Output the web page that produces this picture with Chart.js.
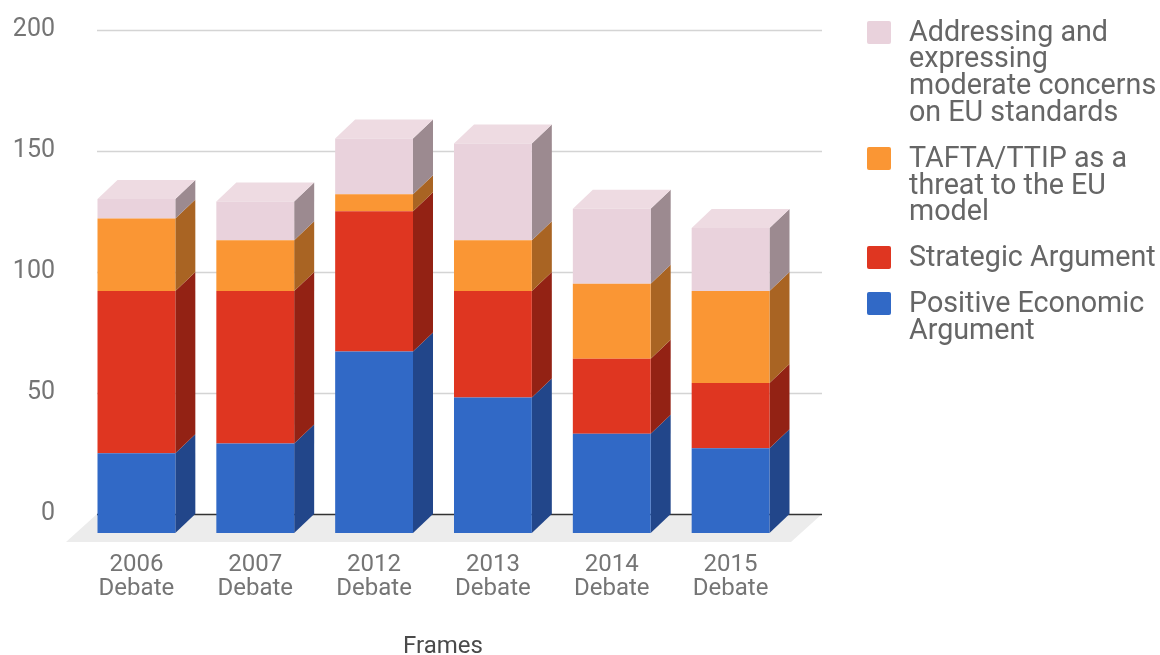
<!DOCTYPE html>
<html>
<head>
<meta charset="utf-8">
<title>Frames</title>
<script src="https://cdn.jsdelivr.net/npm/chart.js@4.4.1/dist/chart.umd.min.js"></script>
<style>
  html, body { margin: 0; padding: 0; background: #fff; }
  #wrap { position: relative; width: 1160px; height: 655px; overflow: hidden; }
  #frames { position: absolute; left: 0; top: 0; }
  .legend-item { position: absolute; left: 867px; font-family: Roboto, sans-serif; font-size: 28.7px; line-height: 26.7px; color: #666; }
  .legend-item .sw { position: absolute; left: 0; top: 3px; width: 24px; height: 23px; border-radius: 2px; }
  .legend-item .txt { position: absolute; left: 42px; top: 0; white-space: nowrap; }
  #xtitle { position: absolute; left: 343px; width: 200px; top: 631px; text-align: center; font-family: Roboto, sans-serif; font-size: 24px; line-height: 28px; color: #4a4a4a; }
</style>
</head>
<body>
<div id="wrap">
  <canvas id="frames" width="1160" height="655"></canvas>
  <div id="legend"></div>
  <div id="xtitle">Frames</div>
</div>
<script>
// Debates on the x axis, stacked frame counts per debate
const categories = [
  ["2006", "Debate"], ["2007", "Debate"], ["2012", "Debate"],
  ["2013", "Debate"], ["2014", "Debate"], ["2015", "Debate"],
];

const positiveEconomic = [33, 37, 75, 56, 41, 35];
const strategicArgument = [67, 63, 58, 44, 31, 27];
const taftaThreat = [30, 21, 7, 21, 31, 38];
const moderateConcerns = [8, 16, 23, 40, 31, 26];

const yTicks = [0, 50, 100, 150, 200];

// legend text, already broken into lines (bottom series first)
const seriesLabels = [
  ["Positive Economic", "Argument"],
  ["Strategic Argument"],
  ["TAFTA/TTIP as a", "threat to the EU", "model"],
  ["Addressing and", "expressing", "moderate concerns", "on EU standards"],
];
const seriesValues = [positiveEconomic, strategicArgument, taftaThreat, moderateConcerns];

const frontColors = ["#3169c6", "#df3621", "#fa9634", "#e9d2dc"];
const sideColors = ["#22468a", "#932214", "#a96423", "#9c8a90"];
const topColors = ["#5b87d3", "#e7614f", "#fbb064", "#eedbe2"];

const AXIS_GREY = "#757575";

// fake 3D: bars are shifted forward, sides/tops go back up-right
const DEPTH_X = 20;
const DEPTH_Y = 19;

function fillPoly(ctx, pts) {
  ctx.beginPath();
  ctx.moveTo(pts[0][0], pts[0][1]);
  for (let i = 1; i < pts.length; i++) ctx.lineTo(pts[i][0], pts[i][1]);
  ctx.closePath();
  ctx.fill();
}

const depthPlugin = {
  id: "depth",
  beforeDatasetsDraw(chart) {
    const { ctx, chartArea: a } = chart;
    const yScale = chart.scales.y;
    const y0 = yScale.getPixelForValue(0);
    const gLeft = a.left + DEPTH_X;
    const gRight = a.right + 32;

    ctx.save();

    // floor under the bars
    ctx.fillStyle = "#ececec";
    fillPoly(ctx, [[gLeft, y0], [gRight, y0], [a.right + 1, y0 + 28], [a.left - 11, y0 + 28]]);

    // gridlines on the back wall
    ctx.strokeStyle = "#d4d4d4";
    ctx.lineWidth = 1.5;
    yTicks.forEach((v) => {
      if (v === 0) return;
      const py = Math.round(yScale.getPixelForValue(v)) + 0.5;
      ctx.beginPath();
      ctx.moveTo(gLeft, py);
      ctx.lineTo(gRight, py);
      ctx.stroke();
    });

    // baseline
    ctx.strokeStyle = "#333";
    ctx.lineWidth = 1.5;
    ctx.beginPath();
    ctx.moveTo(gLeft, Math.round(y0) + 0.5);
    ctx.lineTo(gRight, Math.round(y0) + 0.5);
    ctx.stroke();

    // side and top faces
    const n = chart.data.datasets.length;
    chart.data.datasets.forEach((ds, di) => {
      const meta = chart.getDatasetMeta(di);
      meta.data.forEach((bar, i) => {
        const { x, y, base, width } = bar.getProps(["x", "y", "base", "width"], true);
        const left = x - width / 2;
        const right = x + width / 2;
        const fTop = y + DEPTH_Y;
        const fBot = base + DEPTH_Y;
        if (fBot - fTop < 0.5) return;

        ctx.fillStyle = sideColors[di];
        fillPoly(ctx, [
          [right, fTop], [right + DEPTH_X, fTop - DEPTH_Y],
          [right + DEPTH_X, fBot - DEPTH_Y], [right, fBot],
        ]);

        let topmost = true;
        for (let k = di + 1; k < n; k++) {
          if (Number(chart.data.datasets[k].data[i]) > 0) topmost = false;
        }
        if (topmost) {
          ctx.fillStyle = topColors[di];
          fillPoly(ctx, [
            [left, fTop], [left + DEPTH_X, fTop - DEPTH_Y],
            [right + DEPTH_X, fTop - DEPTH_Y], [right, fTop],
          ]);
        }
      });
    });
    ctx.restore();

    // front faces get drawn by Chart.js, pushed down by the depth offset
    ctx.save();
    ctx.translate(0, DEPTH_Y);
  },
  afterDatasetsDraw(chart) {
    chart.ctx.restore();
  },
};

function buildLegend() {
  const el = document.getElementById("legend");
  let top = 17.7;
  for (let s = seriesLabels.length - 1; s >= 0; s--) {
    const lines = seriesLabels[s];
    const item = document.createElement("div");
    item.className = "legend-item";
    item.style.top = top + "px";
    const sw = document.createElement("div");
    sw.className = "sw";
    sw.style.background = frontColors[s];
    const txt = document.createElement("div");
    txt.className = "txt";
    txt.innerHTML = lines.join("<br>");
    item.appendChild(sw);
    item.appendChild(txt);
    el.appendChild(item);
    top += lines.length * 26.7 + 19.3;
  }
}

function main() {
  Chart.defaults.font.family = "Roboto, sans-serif";
  buildLegend();

  const datasets = seriesValues.map((vals, i) => ({
    label: seriesLabels[i].join(" "),
    data: vals,
    backgroundColor: frontColors[i],
    borderWidth: 0,
    barPercentage: 0.655,
    categoryPercentage: 1,
    clip: false,
  }));

  new Chart(document.getElementById("frames"), {
    type: "bar",
    plugins: [depthPlugin],
    data: { labels: categories, datasets },
    options: {
      responsive: false,
      animation: false,
      events: [],
      layout: { padding: { left: 0, right: 370, top: 30, bottom: 0 } },
      plugins: { legend: { display: false }, tooltip: { enabled: false } },
      scales: {
        x: {
          stacked: true,
          grid: { display: false, drawTicks: false },
          border: { display: false },
          ticks: {
            color: AXIS_GREY,
            font: { size: 24, lineHeight: 1 },
            padding: 39,
            maxRotation: 0,
            autoSkip: false,
          },
          afterFit(scale) {
            scale.height = 141;
          },
        },
        y: {
          stacked: true,
          min: 0,
          max: 200,
          grid: { display: false, drawTicks: false },
          border: { display: false },
          ticks: {
            stepSize: 50,
            color: AXIS_GREY,
            font: { size: 25 },
            padding: 22,
          },
          afterFit(scale) {
            // labels sit left of the plot, so no extra room above/below
            scale.width = 77;
            scale.paddingTop = 0;
            scale.paddingBottom = 0;
          },
        },
      },
    },
  });
}

main();
</script>
</body>
</html>
